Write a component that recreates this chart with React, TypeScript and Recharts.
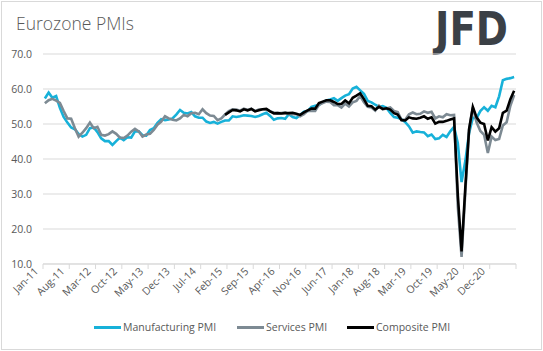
import React from 'react';
import { LineChart, Line, XAxis, YAxis, CartesianGrid } from 'recharts';

// Eurozone PMIs, monthly Jan-11 .. Jun-21
const manufacturing = [
    57.3, 59.0, 57.5, 58.0, 54.6, 52.0, 50.4, 49.0, 48.5, 47.1, 46.4, 46.9,
    48.8, 49.0, 47.7, 45.9, 45.1, 45.1, 44.0, 45.1, 46.1, 45.4, 46.2, 46.1,
    47.9, 47.9, 46.8, 46.7, 48.3, 48.8, 50.3, 51.4, 51.1, 51.3, 51.6, 52.7,
    54.0, 53.2, 53.0, 53.4, 52.2, 51.8, 51.8, 50.7, 50.3, 50.6, 50.1, 50.6,
    51.0, 51.0, 52.2, 52.0, 52.2, 52.5, 52.4, 52.3, 52.0, 52.3, 52.8, 53.2,
    52.3, 51.2, 51.6, 51.7, 51.5, 52.8, 52.0, 51.7, 52.6, 53.5, 53.7, 54.9,
    55.2, 55.4, 56.2, 56.7, 57.0, 57.4, 56.6, 57.4, 58.1, 58.5, 60.1, 60.6,
    59.6, 58.6, 56.6, 56.2, 55.5, 54.9, 55.1, 54.6, 53.2, 52.0, 51.8, 51.4,
    50.5, 49.3, 47.5, 47.9, 47.7, 47.6, 46.5, 47.0, 45.7, 45.9, 46.9, 46.3,
    47.9, 49.2, 44.5, 33.4, 39.4, 47.4, 51.8, 51.7, 53.7, 54.8, 53.8, 55.2,
    54.8, 57.9, 62.5, 62.9, 63.1, 63.4,
];

const services = [
    55.9, 56.8, 57.2, 56.7, 56.0, 53.7, 51.6, 51.5, 48.8, 46.4, 47.5, 48.8,
    50.4, 48.8, 49.2, 46.9, 46.7, 47.1, 47.9, 47.2, 46.1, 46.0, 46.7, 47.8,
    48.6, 47.9, 46.4, 47.0, 47.2, 48.3, 49.8, 50.7, 52.2, 51.6, 51.2, 51.0,
    51.6, 52.6, 52.2, 53.1, 53.2, 52.8, 54.2, 53.1, 52.4, 52.3, 51.1, 51.6,
    52.7, 53.7, 54.2, 54.1, 53.8, 54.4, 54.0, 54.4, 53.7, 54.1, 54.2, 54.2,
    53.6, 53.3, 53.1, 53.1, 53.3, 52.8, 52.9, 52.8, 52.2, 52.8, 53.8, 53.7,
    53.7, 55.5, 56.0, 56.4, 56.3, 55.4, 55.4, 54.7, 55.8, 55.0, 56.2, 56.6,
    58.0, 56.2, 54.9, 54.7, 53.8, 55.2, 54.2, 54.4, 54.7, 53.7, 53.4, 51.2,
    51.2, 52.8, 53.3, 52.8, 52.9, 53.6, 53.2, 53.5, 51.6, 52.2, 51.9, 52.8,
    52.5, 52.6, 26.4, 12.0, 30.5, 48.3, 54.7, 50.5, 48.0, 46.9, 41.7, 46.4,
    45.4, 45.7, 49.6, 50.5, 55.2, 58.3,
];

// composite series starts at Jan-15
const compositeStart = 48;
const composite = [
    52.6, 53.3, 54.0, 53.9, 53.6, 54.2, 53.9, 54.3, 53.6, 53.9, 54.2, 54.3,
    53.6, 53.0, 53.1, 53.0, 53.1, 53.1, 53.2, 52.9, 52.6, 53.3, 53.9, 54.4,
    54.4, 56.0, 56.4, 56.8, 56.8, 56.3, 55.7, 55.7, 56.7, 55.9, 57.5, 58.1,
    58.8, 57.1, 55.2, 55.1, 54.1, 54.9, 54.3, 54.5, 54.1, 53.1, 52.7, 51.1,
    51.0, 51.9, 51.6, 51.5, 51.8, 52.2, 51.5, 51.9, 50.1, 50.6, 50.6, 50.9,
    51.3, 51.6, 29.7, 13.6, 31.9, 48.5, 54.9, 51.9, 50.4, 50.0, 45.3, 49.1,
    47.8, 48.8, 53.2, 53.8, 57.1, 59.5,
];

const tickLabels = [
    'Jan-11', 'Aug-11', 'Mar-12', 'Oct-12', 'May-13', 'Dec-13', 'Jul-14', 'Feb-15', 'Sep-15',
    'Apr-16', 'Nov-16', 'Jun-17', 'Jan-18', 'Aug-18', 'Mar-19', 'Oct-19', 'May-20', 'Dec-20',
];
const yTicks = [10, 20, 30, 40, 50, 60, 70];

const colors = {
    manufacturing: '#17b1d9',
    services: '#7d8a93',
    composite: '#000000',
    grid: '#d9d9d9',
    text: '#595959',
};

const data = manufacturing.map((m, i) => ({
    i,
    manufacturing: m,
    services: services[i],
    composite: i >= compositeStart ? composite[i - compositeStart] : null,
}));

// tick marks sit between categories, every 7 months
const xTicks = Array.from({ length: tickLabels.length + 1 }, (_, k) => k * 7 - 0.5);

const font = '"Open Sans", sans-serif';

const XTick = ({ x, y, payload }: any) => {
    const label = tickLabels[Math.round((payload.value + 0.5) / 7)];
    if (!label) return null;
    const ax = x - 4;
    const ay = y + 1;
    return (
        <text
            x={ax}
            y={ay}
            transform={`rotate(-45, ${ax}, ${ay})`}
            textAnchor="end"
            fill={colors.text}
            fontSize={10.5}
            fontFamily={font}
        >
            {label}
        </text>
    );
};

const legendItems = [
    { name: 'Manufacturing PMI', color: colors.manufacturing, x: 94 },
    { name: 'Services PMI', color: colors.services, x: 237 },
    { name: 'Composite PMI', color: colors.composite, x: 347 },
];

const App: React.FC = () => {
    return (
        <div style={{ position: 'absolute', left: 0, top: 0, width: 543, height: 351, background: '#fff' }}>
            <div
                style={{
                    position: 'absolute', left: 1, top: 1, width: 539, height: 347,
                    border: '1px solid #d9d9d9',
                }}
            />
            <div
                style={{
                    position: 'absolute', left: 16, top: 11, fontFamily: font, fontSize: 17.5,
                    fontWeight: 300, color: colors.text, lineHeight: '24px',
                }}
            >
                Eurozone PMIs
            </div>
            <svg style={{ position: 'absolute', left: 420, top: 0 }} width={110} height={58}>
                <text
                    x={15}
                    y={45}
                    fontFamily='"DejaVu Sans", sans-serif'
                    fontWeight="bold"
                    fontSize={47}
                    fill="#3b4046"
                    textLength={73}
                    lengthAdjust="spacingAndGlyphs"
                >
                    JFD
                </text>
            </svg>
            <div style={{ position: 'absolute', left: 0, top: 0 }}>
                <LineChart
                    width={543}
                    height={351}
                    data={data}
                    margin={{ top: 54, right: 27, left: 0, bottom: 0 }}
                >
                    <CartesianGrid vertical={false} stroke={colors.grid} />
                    <XAxis
                        dataKey="i"
                        type="number"
                        domain={[-0.5, manufacturing.length - 0.5]}
                        ticks={xTicks}
                        interval={0}
                        height={87}
                        stroke={colors.grid}
                        tickSize={5}
                        tick={<XTick />}
                    />
                    <YAxis
                        domain={[10, 70]}
                        ticks={yTicks}
                        width={43}
                        axisLine={false}
                        tickLine={false}
                        tickMargin={5}
                        tickFormatter={(v) => v.toFixed(1)}
                        tick={{ fill: colors.text, fontSize: 10.5, fontFamily: font }}
                    />
                    <Line
                        dataKey="manufacturing"
                        stroke={colors.manufacturing}
                        strokeWidth={2.6}
                        dot={false}
                        isAnimationActive={false}
                    />
                    <Line
                        dataKey="services"
                        stroke={colors.services}
                        strokeWidth={2.6}
                        dot={false}
                        isAnimationActive={false}
                    />
                    <Line
                        dataKey="composite"
                        stroke={colors.composite}
                        strokeWidth={2.6}
                        dot={false}
                        isAnimationActive={false}
                    />
                </LineChart>
            </div>
            {legendItems.map((item) => (
                <div
                    key={item.name}
                    style={{
                        position: 'absolute', left: item.x, top: 319, display: 'flex', alignItems: 'center',
                        fontFamily: font, fontSize: 10.5, color: colors.text, lineHeight: '16px',
                    }}
                >
                    <span style={{ display: 'inline-block', width: 27, height: 3, background: item.color, marginRight: 2 }} />
                    {item.name}
                </div>
            ))}
        </div>
    );
};

export default App;
